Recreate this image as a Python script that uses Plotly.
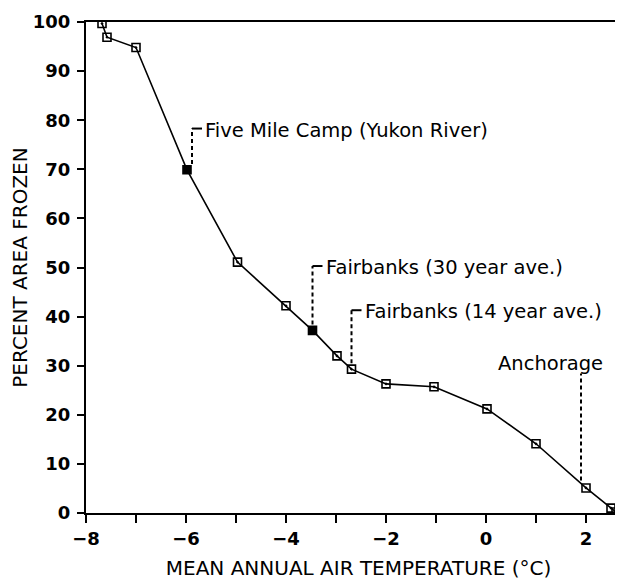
import plotly.graph_objects as go

# ---- data ----
temp_c = [-7.68, -7.58, -7.0, -5.98, -4.97, -4.0, -3.47, -2.98, -2.69, -2.0, -1.04, 0.02, 1.0, 2.0, 2.5, 2.6]
pct_frozen = [99.7, 96.9, 94.8, 69.9, 51.1, 42.2, 37.2, 32.0, 29.3, 26.3, 25.7, 21.2, 14.1, 5.1, 1.0, 0.2]
filled_at = [-5.98, -3.47]  # stations drawn with solid squares

station_names = ["Five Mile Camp (Yukon River)", "Fairbanks (30 year ave.)", "Fairbanks (14 year ave.)", "Anchorage"]
station_temp = [-5.98, -3.47, -2.69, 2.0]
station_pct = [69.9, 37.2, 29.3, 5.1]
label_pct = [78.0, 50.0, 41.0, 30.4]

x_ticks = list(range(-8, 3))
x_ticktext = [("\u2212" + str(-v) if v < 0 else str(v)) if v % 2 == 0 else "" for v in x_ticks]
y_ticks = list(range(0, 101, 10))

symbols = ["square" if t in filled_at else "square-open-dot" for t in temp_c]

fig = go.Figure()
fig.add_trace(go.Scatter(
    x=temp_c, y=pct_frozen, mode="lines+markers",
    line=dict(color="black", width=1.6),
    marker=dict(symbol=symbols, size=8, color="black", line=dict(color="black", width=1.6)),
    showlegend=False, hoverinfo="x+y",
))

ann_font = dict(family="DejaVu Sans", size=19.5, color="black")
dash = "4px,3px"
for i, (name, tx, ty, ly) in enumerate(zip(station_names, station_temp, station_pct, label_pct)):
    if name == "Anchorage":
        lx = tx - 0.1
        fig.add_shape(type="line", xref="x", yref="y", x0=lx, x1=lx, y0=ty + 1.5, y1=ly - 2.0,
                      line=dict(color="black", width=2, dash=dash))
        fig.add_annotation(x=lx - 0.62, y=ly, xref="x", yref="y", text=name, showarrow=False,
                           font=ann_font, xanchor="center", yanchor="middle")
    else:
        lx = tx + (0.1 if i == 0 else 0.0)
        top = ly + 0.3
        fig.add_shape(type="line", xref="x", yref="y", x0=lx, x1=lx, y0=ty + 1.2, y1=top,
                      line=dict(color="black", width=2, dash=dash))
        fig.add_shape(type="line", xref="x", yref="y", x0=lx, x1=lx + 0.2, y0=top, y1=top,
                      line=dict(color="black", width=2))
        fig.add_annotation(x=lx + 0.22, y=ly, xref="x", yref="y", text=name, showarrow=False,
                           font=ann_font, xanchor="left", yanchor="middle")

tick_font = dict(family="DejaVu Sans", size=18, color="black", weight="bold")
title_font = dict(family="DejaVu Sans", size=20, color="black")

fig.update_xaxes(
    range=[-8, 2.9], tickvals=x_ticks, ticktext=x_ticktext,
    ticks="outside", ticklen=8, tickwidth=2, tickcolor="black",
    showline=True, linecolor="black", linewidth=2, mirror=True,
    showgrid=False, zeroline=False, tickfont=tick_font, automargin=False,
    title=dict(text="MEAN ANNUAL AIR TEMPERATURE (°C)", font=title_font, standoff=13),
)
fig.update_yaxes(
    range=[0, 100], tickvals=y_ticks,
    ticks="outside", ticklen=7, tickwidth=2, tickcolor="black",
    showline=True, linecolor="black", linewidth=2, mirror=False,
    showgrid=False, zeroline=False, tickfont=tick_font, automargin=False,
    ticklabelstandoff=3,
    title=dict(text="PERCENT AREA FROZEN", font=title_font, standoff=6),
)
fig.update_layout(
    width=623, height=579,
    margin=dict(l=78, r=0, t=14, b=74),
    paper_bgcolor="white", plot_bgcolor="white",
    font=dict(family="DejaVu Sans", color="black"),
)
fig.write_html("out.html")
